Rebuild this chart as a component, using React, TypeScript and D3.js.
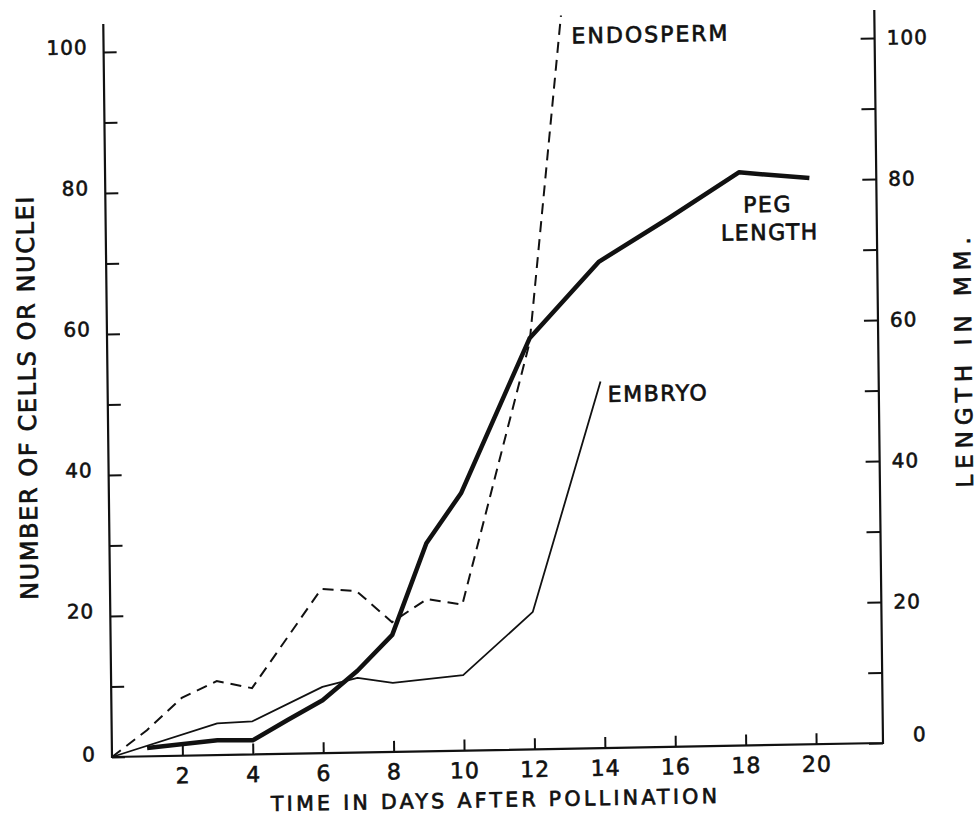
import React, { useEffect, useRef } from 'react';
import * as d3 from 'd3';

// peg length, read against the right axis (mm)
const pegDays = [1, 3, 4, 5, 6, 7, 8, 9, 10, 12, 14, 16, 18, 20];
const pegLength = [1.2, 2.1, 2.0, 4.8, 7.5, 11.6, 16.6, 29.5, 36.5, 58.3, 69.0, 75.0, 81.3, 80.3];

// cell / nuclei counts, left axis
const endoDays = [0, 1, 2, 3, 4, 6, 7, 8, 9, 10, 12, 13];
const endosperm = [0, 3.7, 8.2, 10.5, 9.4, 23.3, 22.9, 18.4, 21.6, 20.7, 57.7, 104];
const embryoDays = [0, 3, 4, 6, 7, 8, 10, 12, 14];
const embryo = [0, 4.5, 4.7, 9.4, 10.6, 9.8, 10.7, 19.5, 52];

const xTicks = [2, 4, 6, 8, 10, 12, 14, 16, 18, 20];
const yTicks = [0, 10, 20, 30, 40, 50, 60, 70, 80, 90, 100];

const FONT = '"DejaVu Sans", sans-serif';
const INK = '#111';

function Chart() {
  const ref = useRef<SVGSVGElement>(null);

  useEffect(() => {
    const width = 771;
    const height = 733;

    const svg = d3.select(ref.current);
    svg.selectAll('*').remove();

    // the scan is a little skewed, so the whole plot frame is too
    const g = svg.append('g')
      .attr('transform', 'matrix(1,-0.01815,0.0119,1,112,757)')
      .attr('font-family', FONT)
      .attr('fill', INK);

    const x = d3.scaleLinear().domain([0, 21.9]).range([0, width]);
    const yL = d3.scaleLinear().domain([0, 100]).range([0, -705]);
    const yR = d3.scaleLinear().domain([0, 100]).range([0, -705]);

    // frame: left, bottom, right
    g.append('path')
      .attr('d', `M0,${-height}V0H${width}V${-height}`)
      .attr('fill', 'none')
      .attr('stroke', INK)
      .attr('stroke-width', 2.2);

    const fmt = (d: d3.NumberValue) => (+d % 20 === 0 ? String(d) : '');

    const xAxis = g.append('g')
      .call(d3.axisBottom(x).tickValues(xTicks).tickSizeInner(-11).tickSizeOuter(0).tickPadding(12));
    const leftAxis = g.append('g')
      .call(d3.axisLeft(yL).tickValues(yTicks).tickFormat(fmt).tickSizeInner(-13).tickSizeOuter(0).tickPadding(16));
    const rightAxis = g.append('g')
      .attr('transform', `translate(${width},0)`)
      .call(d3.axisRight(yR).tickValues(yTicks).tickFormat(fmt).tickSizeInner(-14).tickSizeOuter(0).tickPadding(12));

    [xAxis, leftAxis, rightAxis].forEach(a => {
      a.select('.domain').remove();
      a.selectAll('.tick line').attr('stroke', INK).attr('stroke-width', 2);
      a.selectAll('.tick text')
        .attr('fill', INK)
        .attr('stroke', INK)
        .attr('stroke-width', 0.6)
        .attr('font-family', FONT);
    });
    xAxis.selectAll('.tick text').attr('font-size', 22).attr('letter-spacing', 1);
    leftAxis.selectAll('.tick text').attr('font-size', 20).attr('letter-spacing', 1).attr('y', -5);
    rightAxis.selectAll('.tick text').attr('font-size', 20).attr('letter-spacing', 1);
    leftAxis.select('.tick:first-of-type text').attr('y', -3);
    rightAxis.select('.tick:first-of-type text').attr('x', 30).attr('y', -8);

    const line = d3.line<[number, number]>()
      .x(d => x(d[0]))
      .y(d => d[1]);

    g.append('path')
      .datum(endoDays.map((d, i) => [d, yL(endosperm[i])] as [number, number]))
      .attr('fill', 'none')
      .attr('stroke', INK)
      .attr('stroke-width', 2)
      .attr('stroke-dasharray', '11,7')
      .attr('d', line);

    g.append('path')
      .datum(embryoDays.map((d, i) => [d, yL(embryo[i])] as [number, number]))
      .attr('fill', 'none')
      .attr('stroke', INK)
      .attr('stroke-width', 1.8)
      .attr('stroke-linejoin', 'round')
      .attr('d', line);

    g.append('path')
      .datum(pegDays.map((d, i) => [d, yR(pegLength[i])] as [number, number]))
      .attr('fill', 'none')
      .attr('stroke', INK)
      .attr('stroke-width', 4.5)
      .attr('stroke-linejoin', 'round')
      .attr('d', line);

    const label = (tx: number, ty: number, size: number, spacing: number, s: string, anchor = 'start') =>
      g.append('text')
        .attr('x', tx).attr('y', ty)
        .attr('text-anchor', anchor)
        .attr('font-size', size)
        .attr('letter-spacing', spacing)
        .attr('stroke', INK)
        .attr('stroke-width', 0.7)
        .text(s);

    // series labels
    label(468, -705, 22, 2, 'ENDOSPERM');
    label(662, -533, 22, 1.5, 'PEG', 'middle');
    label(664, -505, 22, 1.5, 'LENGTH', 'middle');
    label(500, -346, 22, 1.5, 'EMBRYO');

    // axis titles
    label(383, 57, 20.5, 3.3, 'TIME IN DAYS AFTER POLLINATION', 'middle');
    label(0, 0, 24, 1.6, 'NUMBER OF CELLS OR NUCLEI', 'middle')
      .attr('transform', 'translate(-72,-361) rotate(-90)');
    label(0, 0, 23, 6, 'LENGTH IN MM.', 'middle')
      .attr('transform', 'translate(864,-382) rotate(-90)');
  }, []);

  return <svg ref={ref} width={978} height={815} style={{ position: 'absolute', left: 0, top: 0, background: '#fff' }} />;
}

export default function App() {
  return <Chart />;
}
